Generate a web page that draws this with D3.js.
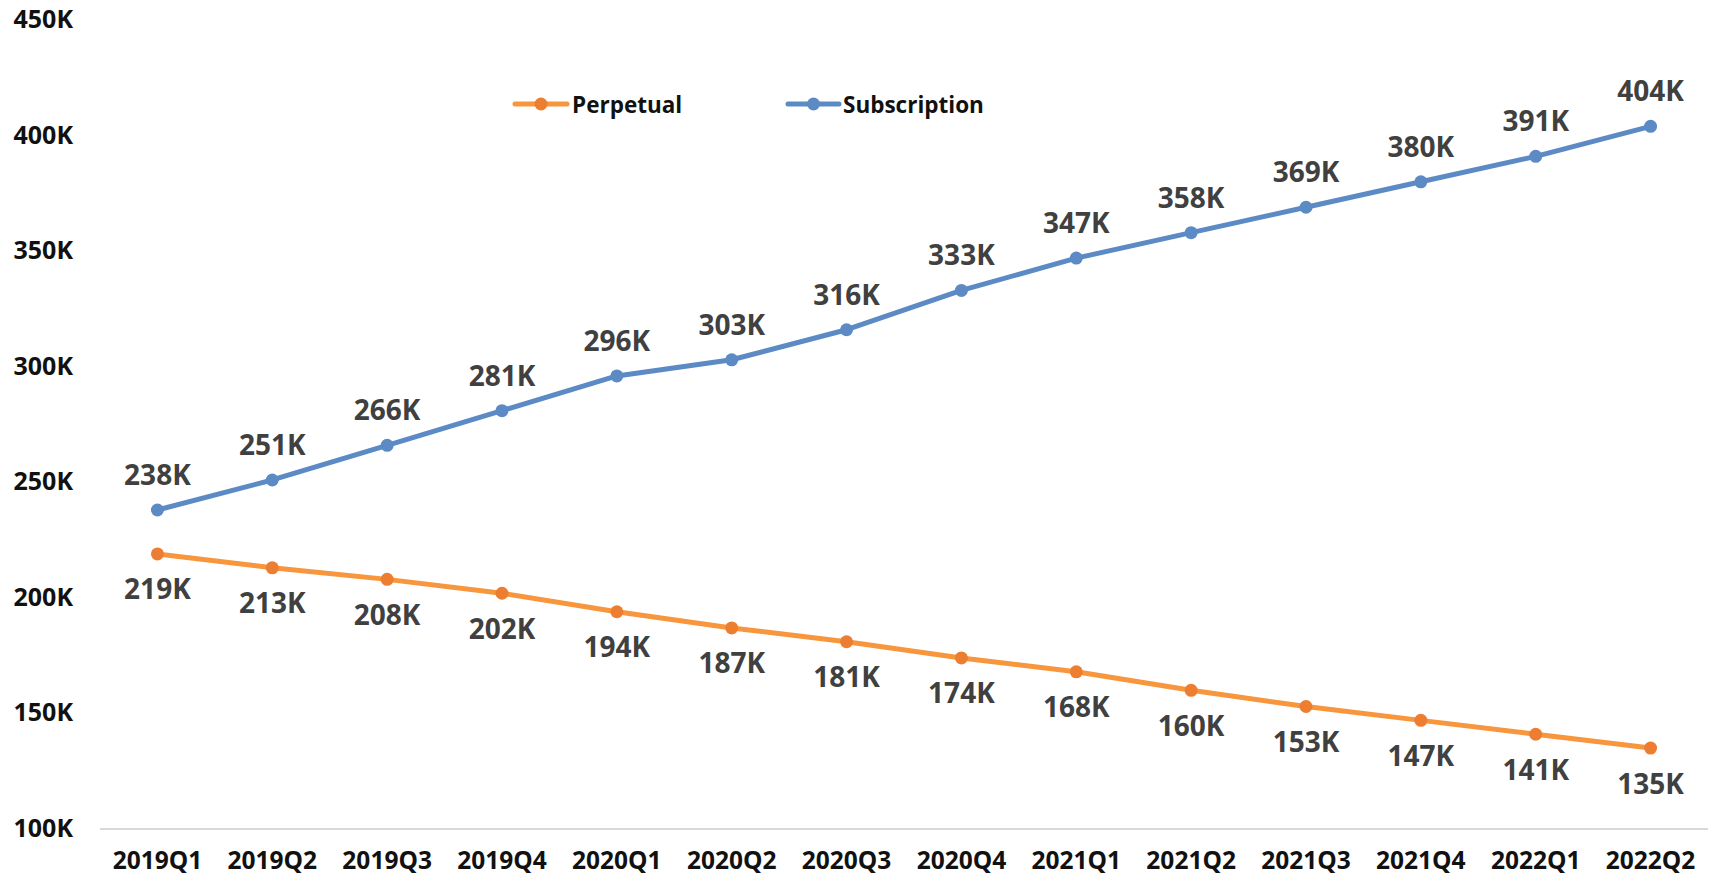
<!DOCTYPE html>
<html><head><meta charset="utf-8">
<script src="https://cdn.jsdelivr.net/npm/d3@7"></script>
<style>html,body{margin:0;padding:0;background:#fff;}svg{display:block;}</style>
</head><body>
<svg id="chart" width="1715" height="875"></svg>
<script>
const categories = ["2019Q1","2019Q2","2019Q3","2019Q4","2020Q1","2020Q2","2020Q3","2020Q4","2021Q1","2021Q2","2021Q3","2021Q4","2022Q1","2022Q2"];
const perpetual = [219,213,208,202,194,187,181,174,168,160,153,147,141,135];
const subscription = [238,251,266,281,296,303,316,333,347,358,369,380,391,404];
const yTicks = [100,150,200,250,300,350,400,450];
const seriesNames = ["Perpetual","Subscription"];

(function () {
const svg = d3.select("#chart");
const font = "'Open Sans', sans-serif";
const plotLeft = 100, plotRight = 1708, plotTop = 20, plotBottom = 829;

const x = d3.scaleBand().domain(categories).range([plotLeft, plotRight]);
const y = d3.scaleLinear().domain([100, 450]).range([plotBottom, plotTop]);

svg.append("line").attr("x1", plotLeft).attr("x2", plotRight).attr("y1", y(100)).attr("y2", y(100))
  .attr("stroke", "#d9d9d9").attr("stroke-width", 2);

svg.append("g").selectAll("text").data(yTicks).join("text")
  .attr("x", 73).attr("y", d => y(d) + 8).attr("text-anchor", "end")
  .attr("font-family", font).attr("font-weight", "bold").attr("font-size", 25).attr("fill", "#111")
  .text(d => d + "K");

svg.append("g").selectAll("text").data(categories).join("text")
  .attr("x", d => x(d) + x.bandwidth() / 2).attr("y", 869).attr("text-anchor", "middle")
  .attr("font-family", font).attr("font-weight", "bold").attr("font-size", 24.5).attr("fill", "#111")
  .text(d => d);

const series = [
  {name: seriesNames[0], values: perpetual, line: "#F7963C", marker: "#ED7D31", dy: 45.5},
  {name: seriesNames[1], values: subscription, line: "#5B8AC5", marker: "#5B8AC5", dy: -25}
];

const lineGen = d3.line().x((d, i) => x(categories[i]) + x.bandwidth() / 2).y(d => y(d));

series.forEach(s => {
  svg.append("path").datum(s.values).attr("d", lineGen).attr("fill", "none")
    .attr("stroke", s.line).attr("stroke-width", 5).attr("stroke-linejoin", "round").attr("stroke-linecap", "round");
  svg.append("g").selectAll("circle").data(s.values).join("circle")
    .attr("cx", (d, i) => x(categories[i]) + x.bandwidth() / 2).attr("cy", d => y(d)).attr("r", 6.5)
    .attr("fill", s.marker);
  svg.append("g").selectAll("text").data(s.values).join("text")
    .attr("x", (d, i) => x(categories[i]) + x.bandwidth() / 2).attr("y", d => y(d) + s.dy)
    .attr("text-anchor", "middle")
    .attr("font-family", font).attr("font-weight", "bold").attr("font-size", 28).attr("fill", "#404040")
    .text(d => d + "K");
});

const legendPos = [{x1: 515, x2: 567, tx: 572}, {x1: 788, x2: 839, tx: 843}];
series.forEach((s, i) => {
  const p = legendPos[i];
  const g = svg.append("g");
  g.append("line").attr("x1", p.x1).attr("x2", p.x2).attr("y1", 104).attr("y2", 104)
    .attr("stroke", s.line).attr("stroke-width", 5).attr("stroke-linecap", "round");
  g.append("circle").attr("cx", (p.x1 + p.x2) / 2).attr("cy", 104).attr("r", 6.5).attr("fill", s.marker);
  g.append("text").attr("x", p.tx).attr("y", 112.5)
    .attr("font-family", font).attr("font-weight", "bold").attr("font-size", 22.5).attr("fill", "#111")
    .text(s.name);
});
})();
</script>
</body></html>
